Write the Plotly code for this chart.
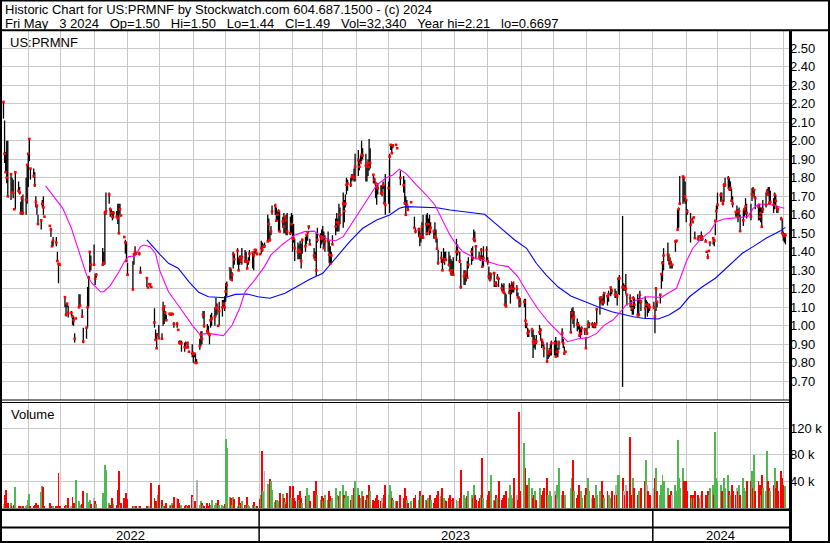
import pandas as pd
import plotly.graph_objects as go

# ---------------- data ----------------
DATES = pd.bdate_range("2022-05-09", "2024-05-03")

HIGH = [
 2.21, 2.11, 1.94, 2.00, 2.00, 1.82, 1.80, 1.79, 1.63, 1.83, 1.78, 1.75, 1.67, 1.70, 1.71, 1.80, 1.87,
 1.93, 2.01, 1.85, 1.85, 1.83, 1.70, 1.65, 1.60, 1.57, 1.68, 1.70, 1.59, None, None, 1.54, 1.53, 1.46, 1.48, 1.48, 1.40, 1.34, 1.34,
 None, None, 1.16, 1.12, 1.12, 1.11, 1.08, 1.06, 1.05, 0.96, 1.04, 1.17, 1.17, None, 1.09, 0.99, 0.99, 1.21, 1.27, 1.40, 1.38,
 1.44, 1.28, 1.285, None, None, None, 1.42, 1.40, 1.62, 1.72, 1.72, 1.64, 1.63, 1.62, 1.62, 1.62, 1.66, 1.66, 1.66, 1.596, 1.48, 1.465, 1.455,
 1.34, None, None, 1.35, 1.39, 1.43, 1.39, 1.40, 1.32, None, None, None, 1.26, 1.207, 1.23, 1.23, 1.21, 1.095, 0.98, 0.96, 0.96, 1.005,
 0.96, 1.13, 1.105, 1.08, 1.06, 1.07, 1.06, 1.07, 1.065, 1.02, 1.02, 0.98, 0.92, 0.92, 0.92, 0.91, 0.915, 0.906, 0.915, 0.86, 0.90,
 0.86, 0.85, 0.85, 0.82, 0.93, 0.97, 0.97, 1.08, 1.08, 1.01, 1.00, 0.95, 1.06, 1.07, 1.10, 1.15, 1.12, 1.00, 1.13, 1.14, 1.14, 1.16,
 1.23, 1.24, 1.31, 1.31, 1.29, 1.40, 1.39, 1.42, 1.37, 1.38, 1.38, 1.42, 1.41, 1.40, 1.34, 1.37, 1.41, 1.40, 1.39, 1.41, 1.41, 1.39,
 1.39, 1.46, 1.45, 1.44, 1.45, 1.60, 1.58, 1.51, 1.54, 1.65, 1.66, 1.64, 1.62, 1.63, 1.62, 1.59, 1.61, 1.59, 1.60, 1.61, 1.59, 1.61,
 1.60, 1.55, 1.47, 1.45, 1.44, 1.46, 1.445, 1.47, 1.48, 1.49, 1.51, 1.54, 1.47, None, 1.42, 1.40, 1.50, 1.53, 1.50, 1.52,
 1.54, 1.51, 1.49, 1.51, 1.46, 1.43, 1.40, 1.49, 1.58, 1.61, 1.58, 1.66, 1.64, 1.72, 1.68, 1.71, 1.80, 1.79, 1.80, 1.82, 1.82, 1.85, 1.93,
 1.95, 1.90, 1.92, 2.00, 1.96, 1.93, 1.87, 1.90, 2.01, 1.96, 1.82, 1.80, 1.78, 1.76, 1.77, 1.76, 1.76, 1.78, 1.76, 1.82,
 1.78, 1.93, 1.98, 1.98, 1.98, 1.978, 1.96, None, None, 1.84, 1.81, 1.79, 1.70, 1.68, 1.65, 1.668, None, None, 1.59, 1.53, 1.53, 1.53, 1.50,
 1.56, 1.60, 1.60, 1.61, 1.58, 1.60, 1.56, 1.52, 1.56, 1.52, 1.47, 1.41, 1.40, 1.36, 1.42, 1.40, 1.40, 1.40, 1.38, 1.36, 1.35, 1.37,
 1.47, 1.44, None, 1.40, 1.34, 1.30, 1.30, 1.29, 1.35, 1.37, 1.42, 1.43, 1.52, 1.51, 1.43, 1.40, 1.38, 1.42, 1.38, 1.43, 1.43,
 1.37, 1.32, 1.29, 1.28, 1.29, 1.24, 1.24, 1.28, 1.26, 1.23, 1.22, 1.23, 1.18, 1.17, 1.23, 1.22, 1.24, 1.23, 1.24, 1.22, 1.18, 1.16, 1.15,
 None, 1.146, 1.146, 1.01, 0.99, 0.98, 0.99, 0.98, 0.95, 0.93, 0.95, 1.005, 0.987, 0.93, 0.92, 0.90, 0.91, 0.86, 0.88, 0.90, 0.92,
 0.92, 0.94, 0.92, 0.88, 0.92, 0.987, 0.93, 0.888, 0.86, None, None, 1.08, 1.095, 1.10, 1.08, 1.04, 1.02, 1.005, 0.99, 0.997, 0.99, 0.94,
 0.99, 1.03, 1.02, 1.02, 1.01, 1.02, 1.01, 1.095, 1.158, 1.16, 1.15, 1.17, 1.18, 1.16, 1.19, None, 1.21, 1.20, 1.20, 1.19, 1.17, 1.26,
 1.275, 1.594, 1.23, 1.22, 1.28, 1.17, 1.17, 1.14, 1.11, 1.16, 1.15, 1.17, 1.15, 1.19, 1.14, None, 1.16, 1.14, 1.13, 1.12, 1.12,
 None, 1.13, 1.09, 1.21, 1.13, 1.17, 1.28, 1.35, 1.42, None, 1.45, 1.39, 1.37, 1.35, 1.33, 1.46, 1.46, 1.63, 1.64, 1.81, 1.81, 1.80, 1.78,
 1.68, 1.63, 1.61, 1.574, 1.586, 1.586, 1.51, 1.49, None, 1.49, 1.51, 1.49, 1.47, 1.40, 1.39, 1.405, 1.45, 1.48, 1.47, 1.57, 1.65,
 1.72, 1.72, 1.72, 1.68, 1.77, 1.80, 1.81, 1.80, 1.78, 1.74, 1.70, 1.62, 1.65, 1.63, 1.64, 1.60, 1.63, 1.64, 1.69, 1.66, None,
 1.66, 1.745, 1.75, 1.74, 1.70, 1.66, 1.66, 1.64, 1.64, 1.68, 1.72, 1.74, 1.75, 1.75, 1.73, 1.69, 1.72, 1.71, 1.65, 1.64, 1.59, 1.58,
 1.51, 1.50, 1.50,
]

LOW = [
 2.12, 1.88, 1.83, 1.77, 1.70, 1.68, 1.72, 1.69, 1.63, 1.63, 1.72, 1.71, 1.60, 1.60, 1.60, 1.60, 1.66,
 1.75, 1.89, 1.79, 1.80, 1.75, 1.64, 1.60, 1.55, 1.52, 1.64, 1.60, 1.59, None, None, 1.54, 1.48, 1.43, 1.43, 1.43, 1.35, 1.23, 1.33,
 None, None, 1.10, 1.05, 1.10, 1.045, 1.05, 1.005, 1.00, 0.91, 1.04, 1.10, 1.10, None, 1.045, 0.906, 0.93, 0.99, 1.10, 1.29, 1.30,
 1.33, 1.22, 1.26, None, None, None, 1.33, 1.33, 1.33, 1.60, 1.66, 1.59, 1.60, 1.57, 1.58, 1.58, 1.55, 1.50, 1.60, 1.596, 1.48, 1.39, 1.35,
 1.276, None, None, 1.195, 1.33, 1.39, 1.39, 1.38, 1.285, None, None, None, 1.21, 1.207, 1.22, 1.21, 1.21, 0.99, 0.92, 0.88, 0.95, 0.93,
 0.93, 1.00, 1.01, 1.03, 1.03, 1.06, 1.06, 1.06, 1.06, 0.99, 0.99, 0.978, 0.90, 0.90, 0.86, 0.86, 0.88, 0.906, 0.88, 0.86, 0.83,
 0.80, 0.83, 0.80, 0.80, 0.87, 0.89, 0.90, 1.04, 0.99, 0.96, 0.95, 0.90, 0.99, 1.00, 1.00, 1.05, 1.06, 1.00, 1.00, 1.05, 1.10, 1.08,
 1.13, 1.16, 1.25, 1.25, 1.24, 1.31, 1.33, 1.33, 1.30, 1.33, 1.34, 1.33, 1.34, 1.34, 1.31, 1.33, 1.35, 1.31, 1.30, 1.39, 1.39, 1.38,
 1.385, 1.39, 1.40, 1.42, 1.42, 1.455, 1.46, 1.455, 1.49, 1.60, 1.60, 1.57, 1.57, 1.51, 1.51, 1.53, 1.50, 1.50, 1.49, 1.49, 1.49, 1.50,
 1.40, 1.45, 1.35, 1.36, 1.36, 1.36, 1.31, 1.39, 1.40, 1.44, 1.46, 1.52, 1.44, None, 1.36, 1.35, 1.27, 1.45, 1.42, 1.44,
 1.45, 1.42, 1.40, 1.40, 1.34, 1.33, 1.34, 1.44, 1.49, 1.51, 1.51, 1.51, 1.55, 1.53, 1.56, 1.64, 1.71, 1.73, 1.75, 1.78, 1.79, 1.78, 1.78,
 1.81, 1.84, 1.88, 1.89, 1.90, 1.78, 1.78, 1.81, 1.84, 1.85, 1.77, 1.77, 1.69, 1.654, 1.71, 1.71, 1.70, 1.74, 1.663, 1.60,
 1.66, 1.61, 1.95, 1.93, 1.96, 1.978, 1.96, None, None, 1.76, 1.72, 1.654, 1.60, 1.64, 1.627, 1.668, None, None, 1.529, 1.50, 1.48, 1.43, 1.45,
 1.47, 1.47, 1.49, 1.49, 1.51, 1.49, 1.50, 1.47, 1.47, 1.45, 1.41, 1.33, 1.34, 1.30, 1.34, 1.33, 1.36, 1.32, 1.30, 1.27, 1.27, 1.27,
 1.35, 1.38, None, 1.34, 1.20, 1.22, 1.22, 1.24, 1.26, 1.31, 1.33, 1.35, 1.456, 1.45, 1.36, 1.37, 1.35, 1.36, 1.32, 1.32, 1.35,
 1.33, 1.25, 1.24, 1.25, 1.21, 1.21, 1.21, 1.25, 1.21, 1.19, 1.18, 1.17, 1.105, 1.10, 1.17, 1.12, 1.17, 1.18, 1.18, 1.16, 1.15, 1.10, 1.10,
 None, 1.10, 0.987, 0.987, 0.94, 0.94, 0.94, 0.826, 0.88, 0.87, 0.90, 0.951, 0.92, 0.88, 0.89, 0.83, 0.80, 0.82, 0.83, 0.84, 0.84,
 0.84, 0.83, 0.83, 0.83, 0.87, 0.906, 0.88, 0.85, 0.86, None, None, 0.96, 1.04, 1.01, 0.99, 0.97, 0.98, 0.94, 0.93, 0.95, 0.95, 0.88,
 0.95, 0.987, 0.987, 0.99, 0.987, 0.987, 0.987, 1.005, 1.06, 1.12, 1.11, 1.11, 1.12, 1.11, 1.13, None, 1.16, 1.17, 1.15, 1.15, 1.11, 1.17,
 1.166, 0.67, 1.19, 1.19, 1.17, 1.11, 1.10, 1.08, 1.06, 1.06, 1.09, 1.05, 1.05, 1.12, 1.08, None, 1.04, 1.10, 1.05, 1.07, 1.08,
 None, 1.09, 0.96, 1.08, 1.10, 1.12, 1.20, 1.24, 1.30, None, 1.35, 1.33, 1.31, 1.31, 1.31, 1.40, 1.45, 1.52, 1.53, 1.66, 1.66, 1.67, 1.66,
 1.56, 1.60, 1.45, 1.574, 1.56, 1.586, 1.47, 1.46, None, 1.46, 1.46, 1.46, 1.456, 1.40, 1.36, 1.405, 1.43, 1.44, 1.43, 1.49, 1.57,
 1.63, 1.67, 1.67, 1.65, 1.67, 1.75, 1.74, 1.73, 1.73, 1.67, 1.64, 1.59, 1.59, 1.56, 1.59, 1.51, 1.54, 1.59, 1.60, 1.58, None,
 1.57, 1.675, 1.71, 1.69, 1.63, 1.57, 1.57, 1.56, 1.54, 1.61, 1.64, 1.71, 1.70, 1.66, 1.66, 1.61, 1.63, 1.65, 1.61, 1.61, 1.57, 1.50,
 1.46, 1.45, 1.44,
]

CLOSE = [
 2.21, 1.93, 1.83, 1.80, 1.70, 1.82, 1.72, 1.72, 1.63, 1.83, 1.73, 1.72, 1.61, 1.69, 1.61, 1.68, 1.87,
 1.93, 2.01, 1.85, 1.81, 1.76, 1.67, 1.65, 1.55, 1.57, 1.66, 1.64, 1.59, None, None, 1.54, 1.52, 1.43, 1.46, 1.45, 1.35, 1.335, 1.33,
 None, None, 1.155, 1.06, 1.12, 1.07, 1.07, 1.05, 1.03, 0.93, 1.04, 1.10, 1.11, None, 1.05, 0.915, 0.99, 1.10, 1.26, 1.40, 1.33,
 1.33, 1.255, 1.276, None, None, None, 1.33, 1.34, 1.61, 1.62, 1.71, 1.63, 1.61, 1.59, 1.61, 1.59, 1.58, 1.50, 1.63, 1.596, 1.48, 1.45, 1.35,
 1.276, None, None, 1.196, 1.387, 1.40, 1.39, 1.39, 1.288, None, None, None, 1.258, 1.207, 1.225, 1.225, 1.21, 1.018, 0.924, 0.879, 0.95, 0.933,
 0.93, 1.09, 1.105, 1.07, 1.03, 1.065, 1.06, 1.065, 1.063, 1.01, 1.01, 0.978, 0.91, 0.905, 0.906, 0.885, 0.883, 0.906, 0.883, 0.86, 0.85,
 0.85, 0.85, 0.80, 0.80, 0.89, 0.95, 0.93, 1.06, 1.00, 0.97, 0.96, 0.95, 1.03, 1.04, 1.05, 1.095, 1.10, 1.00, 1.08, 1.10, 1.12, 1.10,
 1.186, 1.22, 1.31, 1.25, 1.276, 1.387, 1.36, 1.405, 1.30, 1.366, 1.35, 1.37, 1.348, 1.35, 1.31, 1.348, 1.39, 1.396, 1.38, 1.41, 1.41, 1.39,
 1.387, 1.42, 1.41, 1.43, 1.43, 1.456, 1.55, 1.465, 1.51, 1.618, 1.65, 1.568, 1.60, 1.62, 1.51, 1.564, 1.537, 1.587, 1.57, 1.51, 1.50, 1.55,
 1.474, 1.47, 1.42, 1.40, 1.41, 1.40, 1.35, 1.465, 1.43, 1.49, 1.506, 1.537, 1.44, None, 1.38, 1.36, 1.30, 1.465, 1.483, 1.47,
 1.474, 1.42, 1.456, 1.46, 1.384, 1.335, 1.38, 1.44, 1.537, 1.56, 1.56, 1.55, 1.60, 1.66, 1.62, 1.66, 1.762, 1.77, 1.762, 1.807, 1.81, 1.80, 1.86,
 1.897, 1.86, 1.88, 1.924, 1.92, 1.867, 1.86, 1.88, 1.86, 1.88, 1.816, 1.79, 1.77, 1.75, 1.744, 1.717, 1.717, 1.762, 1.663, 1.654,
 1.744, 1.915, 1.978, 1.933, 1.975, 1.978, 1.96, None, None, 1.80, 1.76, 1.663, 1.60, 1.654, 1.627, 1.668, None, None, 1.529, 1.51, 1.52, 1.483, 1.49,
 1.537, 1.477, 1.55, 1.50, 1.55, 1.519, 1.53, 1.51, 1.483, 1.474, 1.416, 1.34, 1.366, 1.30, 1.348, 1.36, 1.357, 1.33, 1.30, 1.284, 1.30, 1.276,
 1.40, 1.40, None, 1.35, 1.21, 1.267, 1.28, 1.29, 1.26, 1.33, 1.40, 1.366, 1.47, 1.46, 1.43, 1.37, 1.366, 1.41, 1.32, 1.366, 1.41,
 1.348, 1.267, 1.25, 1.28, 1.285, 1.23, 1.22, 1.26, 1.254, 1.203, 1.186, 1.18, 1.114, 1.105, 1.18, 1.20, 1.21, 1.23, 1.20, 1.20, 1.153, 1.146, 1.12,
 None, 1.13, 1.027, 1.009, 0.96, 0.969, 0.978, 0.915, 0.906, 0.92, 0.915, 0.965, 0.978, 0.924, 0.906, 0.879, 0.807, 0.85, 0.86, 0.87, 0.906,
 0.906, 0.834, 0.86, 0.86, 0.906, 0.96, 0.906, 0.85, 0.86, None, None, 0.965, 1.069, 1.04, 1.05, 1.009, 1.005, 0.948, 0.96, 0.987, 0.978, 0.879,
 0.96, 1.005, 1.009, 1.009, 1.005, 0.997, 1.009, 1.09, 1.146, 1.153, 1.13, 1.127, 1.177, 1.16, 1.17, None, 1.207, 1.19, 1.168, 1.168, 1.16, 1.254,
 1.258, 1.21, 1.21, 1.20, 1.20, 1.168, 1.15, 1.114, 1.095, 1.15, 1.114, 1.059, 1.06, 1.168, 1.13, None, 1.095, 1.114, 1.114, 1.11, 1.10,
 None, 1.10, 1.05, 1.20, 1.13, 1.168, 1.28, 1.34, 1.38, None, 1.385, 1.366, 1.348, 1.33, 1.33, 1.456, 1.46, 1.52, 1.63, 1.66, 1.807, 1.80, 1.70,
 1.68, 1.618, 1.546, 1.574, 1.56, 1.586, 1.474, 1.47, None, 1.483, 1.483, 1.47, 1.456, 1.40, 1.37, 1.405, 1.45, 1.474, 1.46, 1.568, 1.62,
 1.654, 1.708, 1.676, 1.66, 1.76, 1.762, 1.798, 1.74, 1.745, 1.676, 1.66, 1.616, 1.616, 1.59, 1.62, 1.512, 1.57, 1.63, 1.645, 1.61, None,
 1.59, 1.71, 1.708, 1.735, 1.69, 1.645, 1.59, 1.61, 1.535, 1.63, 1.654, 1.726, 1.71, 1.663, 1.67, 1.654, 1.708, 1.676, 1.64, 1.63, 1.578, 1.50,
 1.49, 1.488, 1.49,
]

# volume in thousands of shares
VOLUME_K = [
 6, 20, 27, 7, 7, 7, 3, 2, 4, 31, 2, 3, 3, 3, 2, 3, 4,
 12, 21, 3, 3, 5, 7, 3, 4, 24, 33, 32, 2, 0, 0, 8, 2, 2, 3, 2, 3, 52, 2,
 0, 0, 3, 4, 4, 15, 3, 16, 7, 6, 42, 10, 4, 0, 6, 25, 23, 9, 8, 12, 6,
 15, 10, 6, 0, 0, 0, 22, 4, 64, 57, 7, 4, 5, 15, 6, 4, 27, 55, 4, 7, 15, 15, 23,
 13, 0, 0, 3, 2, 2, 2, 3, 2, 0, 0, 0, 2, 2, 3, 2, 38, 15, 10, 2, 20, 35,
 12, 3, 3, 2, 7, 4, 3, 7, 4, 16, 15, 13, 7, 3, 5, 3, 4, 3, 2, 5, 19,
 17, 5, 10, 42, 4, 10, 7, 4, 3, 7, 3, 7, 4, 12, 4, 7, 3, 12, 5, 4, 3, 6,
 103, 90, 17, 15, 5, 17, 14, 3, 16, 4, 7, 10, 4, 3, 17, 4, 3, 4, 9, 3, 2, 3,
 13, 20, 85, 25, 55, 36, 25, 43, 40, 27, 9, 12, 12, 10, 22, 21, 15, 9, 6, 22, 33, 15,
 33, 15, 10, 20, 12, 25, 15, 8, 18, 30, 12, 20, 10, 0, 25, 15, 40, 20, 12, 18,
 10, 15, 20, 12, 25, 18, 10, 15, 30, 20, 12, 18, 25, 35, 20, 15, 25, 18, 12, 20, 15, 30, 40,
 30, 20, 15, 25, 18, 12, 20, 15, 35, 25, 12, 10, 15, 20, 12, 10, 15, 8, 20, 35,
 20, 35, 25, 15, 12, 10, 10, 0, 0, 20, 15, 30, 18, 12, 8, 10, 0, 0, 15, 20, 12, 25, 18,
 15, 20, 12, 10, 15, 20, 12, 8, 15, 10, 20, 25, 18, 30, 15, 12, 10, 15, 20, 12, 10, 15,
 12, 10, 0, 15, 57, 20, 15, 12, 18, 25, 20, 15, 35, 20, 12, 10, 15, 20, 75, 15, 12,
 20, 25, 15, 50, 12, 10, 20, 15, 40, 12, 15, 20, 18, 25, 15, 35, 20, 15, 45, 20, 12, 144, 25,
 0, 97, 60, 35, 20, 45, 30, 15, 20, 25, 12, 30, 15, 20, 25, 30, 45, 20, 15, 25, 18,
 25, 20, 35, 15, 60, 20, 25, 15, 20, 0, 0, 30, 45, 72, 25, 15, 20, 35, 25, 15, 20, 30,
 20, 45, 25, 15, 20, 15, 35, 20, 25, 15, 40, 20, 15, 25, 20, 0, 15, 25, 20, 35, 20, 50,
 50, 45, 25, 20, 35, 25, 106, 15, 20, 45, 30, 20, 25, 15, 30, 0, 40, 72, 35, 25, 20,
 0, 30, 45, 60, 25, 20, 35, 50, 40, 0, 30, 20, 15, 25, 20, 35, 25, 102, 45, 30, 60, 40, 25,
 40, 25, 20, 15, 20, 15, 25, 20, 0, 15, 20, 25, 20, 15, 25, 20, 30, 35, 20, 114, 45,
 40, 35, 25, 20, 45, 30, 50, 25, 20, 35, 25, 20, 30, 25, 35, 20, 45, 30, 25, 40, 0,
 40, 55, 30, 80, 25, 40, 35, 20, 50, 30, 25, 85, 40, 30, 25, 35, 60, 30, 40, 25, 55, 45,
 35, 30, 32.34,
]

MA_FAST_DATES = [
 "2022-06-17", "2022-07-03", "2022-07-11", "2022-07-19", "2022-07-25", "2022-07-30", "2022-08-07",
 "2022-08-10", "2022-08-16", "2022-08-24", "2022-08-29", "2022-09-02", "2022-09-08", "2022-09-13",
 "2022-09-16", "2022-09-22", "2022-09-27", "2022-10-01", "2022-10-09", "2022-10-20", "2022-10-31",
 "2022-11-07", "2022-11-15", "2022-11-29", "2022-12-07", "2022-12-14", "2022-12-19", "2022-12-28",
 "2023-01-06", "2023-01-12", "2023-01-22", "2023-02-03", "2023-02-12", "2023-02-21", "2023-02-26",
 "2023-03-07", "2023-03-13", "2023-03-20", "2023-03-29", "2023-04-06", "2023-04-13", "2023-04-20",
 "2023-04-29", "2023-05-05", "2023-05-11", "2023-05-17", "2023-05-27", "2023-06-05", "2023-06-13",
 "2023-06-19", "2023-06-27", "2023-07-03", "2023-07-09", "2023-07-15", "2023-07-20", "2023-07-29",
 "2023-08-11", "2023-08-20", "2023-08-29", "2023-09-07", "2023-09-16", "2023-09-26", "2023-10-05",
 "2023-10-14", "2023-10-23", "2023-11-02", "2023-11-10", "2023-11-17", "2023-11-25", "2023-12-01",
 "2023-12-07", "2023-12-17", "2023-12-27", "2024-01-09", "2024-01-15", "2024-01-23", "2024-01-27",
 "2024-02-01", "2024-02-07", "2024-02-15", "2024-02-23", "2024-02-29", "2024-03-07", "2024-03-21",
 "2024-03-29", "2024-04-03", "2024-04-08", "2024-04-18", "2024-04-28", "2024-05-02",
]
MA_FAST = [
 1.756, 1.635, 1.527, 1.383, 1.275, 1.23, 1.184,
 1.184, 1.217, 1.292, 1.346, 1.374, 1.377, 1.428,
 1.437, 1.428, 1.39, 1.296, 1.184, 1.095, 1.004,
 0.954, 0.959, 0.947, 1.004, 1.095, 1.184, 1.248,
 1.32, 1.383, 1.437, 1.49, 1.509, 1.512, 1.49,
 1.464, 1.46, 1.482, 1.563, 1.635, 1.698, 1.761,
 1.80, 1.815, 1.847, 1.824, 1.761, 1.707, 1.653,
 1.581, 1.49, 1.437, 1.40, 1.383, 1.365, 1.352,
 1.329, 1.32, 1.265, 1.176, 1.095, 1.022, 0.968,
 0.914, 0.929, 0.936, 0.959, 1.004, 1.031, 1.068,
 1.112, 1.139, 1.157, 1.154, 1.176, 1.203, 1.265,
 1.346, 1.418, 1.473, 1.509, 1.563, 1.577, 1.584,
 1.59, 1.635, 1.657, 1.657, 1.644, 1.635,
]

MA_SLOW_DATES = [
 "2022-09-19", "2022-09-27", "2022-10-01", "2022-10-09", "2022-10-18", "2022-10-28", "2022-11-06",
 "2022-11-15", "2022-11-30", "2022-12-10", "2022-12-21", "2022-12-31", "2023-01-11", "2023-01-25",
 "2023-02-06", "2023-02-17", "2023-03-01", "2023-03-13", "2023-03-26", "2023-04-07", "2023-04-20",
 "2023-05-02", "2023-05-11", "2023-05-17", "2023-05-30", "2023-06-15", "2023-06-27", "2023-07-15",
 "2023-07-29", "2023-08-08", "2023-08-17", "2023-08-26", "2023-09-06", "2023-09-15", "2023-09-24",
 "2023-10-05", "2023-10-17", "2023-10-30", "2023-11-11", "2023-11-24", "2023-12-03", "2023-12-14",
 "2023-12-23", "2024-01-06", "2024-01-16", "2024-01-26", "2024-02-04", "2024-02-16", "2024-02-28",
 "2024-03-12", "2024-03-24", "2024-04-03", "2024-04-15", "2024-04-28", "2024-05-03",
]
MA_SLOW = [
 1.464, 1.41, 1.386, 1.338, 1.311, 1.238, 1.181,
 1.157, 1.152, 1.17, 1.172, 1.157, 1.149, 1.176,
 1.217, 1.252, 1.284, 1.365, 1.455, 1.527, 1.572,
 1.599, 1.635, 1.644, 1.641, 1.638, 1.626, 1.613,
 1.603, 1.554, 1.509, 1.464, 1.419, 1.338, 1.275,
 1.211, 1.161, 1.13, 1.103, 1.076, 1.062, 1.049,
 1.041, 1.037, 1.058, 1.095, 1.157, 1.211, 1.257,
 1.329, 1.392, 1.428, 1.473, 1.512, 1.532,
]

MONTH_STARTS = [
 "2022-06-01", "2022-07-01", "2022-08-01", "2022-09-01", "2022-10-01", "2022-11-01", "2022-12-01",
 "2023-01-01", "2023-02-01", "2023-03-01", "2023-04-01", "2023-05-01", "2023-06-01", "2023-07-01",
 "2023-08-01", "2023-09-01", "2023-10-01", "2023-11-01", "2023-12-01", "2024-01-01", "2024-02-01",
 "2024-03-01", "2024-04-01", "2024-05-01",
]
PRICE_TICKS = [0.70, 0.80, 0.90, 1.00, 1.10, 1.20, 1.30, 1.40, 1.50, 1.60, 1.70, 1.80, 1.90,
               2.00, 2.10, 2.20, 2.30, 2.40, 2.50]
PRICE_LABELS = ["0.70", "0.80", "0.90", "1.00", "1.10", "1.20", "1.30", "1.40", "1.50", "1.60",
                "1.70", "1.80", "1.90", "2.00", "2.10", "2.20", "2.30", "2.40", "2.50"]
VOLUME_TICKS = [40, 80, 120]
VOLUME_LABELS = ["40 k", "80 k", "120 k"]
YEARS = ["2022", "2023", "2024"]
YEAR_BOUNDS = ["2023-01-01", "2024-01-01"]

TITLE_1 = "Historic Chart for US:PRMNF by Stockwatch.com 604.687.1500 - (c) 2024"
SP = "\u00a0\u00a0\u00a0"
TITLE_2 = SP.join(["Fri May", "3 2024", "Op=1.50", "Hi=1.50", "Lo=1.44", "Cl=1.49",
                   "Vol=32,340", "Year hi=2.21", "lo=0.6697"])
SYMBOL = "US:PRMNF"

n = min(len(DATES), len(HIGH), len(LOW), len(CLOSE), len(VOLUME_K))
if not (len(DATES) == len(HIGH) == len(LOW) == len(CLOSE) == len(VOLUME_K)):
    print("length mismatch", len(DATES), len(HIGH), len(LOW), len(CLOSE), len(VOLUME_K))
dates = list(DATES[:n])

# ---------------- geometry helpers (pixels -> paper) ----------------
W, H = 830, 543
def px(x):
    return x / W
def py(y):
    return 1 - y / H

FONT = "Liberation Sans, Arial, sans-serif"
GRID = "#C8C8C8"
X_RANGE = ["2022-05-07 15:00", "2024-05-06 07:00"]

fig = go.Figure()

# high-low bars
seg_x, seg_y = [], []
for d, h, l in zip(dates, HIGH[:n], LOW[:n]):
    if h is None:
        continue
    seg_x += [d, d, None]
    seg_y += [l, h, None]
fig.add_trace(go.Scatter(x=seg_x, y=seg_y, mode="lines", line=dict(color="black", width=1.3),
                         hoverinfo="skip", xaxis="x", yaxis="y"))

# moving averages
fig.add_trace(go.Scatter(x=MA_SLOW_DATES, y=MA_SLOW, mode="lines",
                         line=dict(color="#0000FF", width=1.1), xaxis="x", yaxis="y"))
fig.add_trace(go.Scatter(x=MA_FAST_DATES, y=MA_FAST, mode="lines",
                         line=dict(color="#FF00FF", width=1.1), xaxis="x", yaxis="y"))

# close markers
cx = [d for d, c in zip(dates, CLOSE[:n]) if c is not None]
cy = [c for c in CLOSE[:n] if c is not None]
fig.add_trace(go.Scatter(x=cx, y=cy, mode="markers",
                         marker=dict(symbol="square", size=2.6, color="#FF0000", line=dict(width=0)),
                         xaxis="x", yaxis="y"))

# volume bars coloured by close direction
colors = []
prev = None
for c in CLOSE[:n]:
    if c is None or prev is None:
        colors.append("#B4B4B4" if c is not None else "#FFFFFF")
    elif c > prev:
        colors.append("#50B850")
    elif c < prev:
        colors.append("#FF0000")
    else:
        colors.append("#B4B4B4")
    if c is not None:
        prev = c
fig.add_trace(go.Bar(x=dates, y=VOLUME_K[:n], marker=dict(color=colors, line=dict(width=0)),
                     width=86400000 * 0.9, xaxis="x2", yaxis="y2"))

axis_common = dict(showline=False, zeroline=False, ticks="")
fig.update_layout(
    width=W, height=H, margin=dict(l=0, r=0, t=0, b=0),
    paper_bgcolor="white", plot_bgcolor="white", showlegend=False, bargap=0,
    xaxis=dict(domain=[px(2), px(789)], range=X_RANGE, type="date", tickvals=MONTH_STARTS,
               showticklabels=False, showgrid=True, gridcolor=GRID, gridwidth=1, anchor="y",
               **axis_common),
    yaxis=dict(domain=[py(400), py(31)], range=[0.599, 2.5935], side="right", anchor="x",
               tickvals=PRICE_TICKS, ticktext=PRICE_LABELS, showgrid=True, gridcolor=GRID,
               gridwidth=1, tickfont=dict(family=FONT, size=13, color="black"), **axis_common),
    xaxis2=dict(domain=[px(2), px(789)], range=X_RANGE, type="date", tickvals=MONTH_STARTS,
                showticklabels=False, showgrid=True, gridcolor=GRID, gridwidth=1, anchor="y2",
                matches="x", **axis_common),
    yaxis2=dict(domain=[py(508), py(402)], range=[0, 159], side="right", anchor="x2",
                tickvals=VOLUME_TICKS, ticktext=VOLUME_LABELS, showgrid=True, gridcolor=GRID,
                gridwidth=1, tickfont=dict(family=FONT, size=13, color="black"), **axis_common),
)

shapes = []
def hline(y, x0, x1, w):
    shapes.append(dict(type="line", xref="paper", yref="paper", x0=px(x0), x1=px(x1),
                       y0=py(y), y1=py(y), line=dict(color="black", width=w)))
def vline(x, y0, y1, w):
    shapes.append(dict(type="line", xref="paper", yref="paper", x0=px(x), x1=px(x),
                       y0=py(y0), y1=py(y1), line=dict(color="black", width=w)))

shapes.append(dict(type="rect", xref="paper", yref="paper", x0=px(1), x1=px(829), y0=py(542),
                   y1=py(0.5), line=dict(color="black", width=2)))
hline(30.2, 0, 830, 2)
vline(790.5, 30, 543, 3)
hline(400, 0, 790, 1)
hline(402.5, 0, 790, 1)
hline(509.8, 0, 790, 2.5)
hline(527.5, 0, 790, 2)
for yb in YEAR_BOUNDS:
    shapes.append(dict(type="line", xref="x", yref="paper", x0=yb, x1=yb, y0=py(510), y1=py(542),
                       line=dict(color="black", width=1.5)))
fig.update_layout(shapes=shapes)

ann = []
def label(text, x, y, anchor="left"):
    ann.append(dict(text=text, xref="paper", yref="paper", x=px(x), y=py(y), xanchor=anchor,
                    yanchor="middle", showarrow=False, font=dict(family=FONT, size=13, color="black")))
label(TITLE_1, 3, 9.5)
label(TITLE_2, 3, 23.5)
label(SYMBOL, 8, 42.5)
label("Volume", 9, 414)
year_centers = [130, 455, 720]
for t, xc in zip(YEARS, year_centers):
    label(t, xc, 535.5, "center")
fig.update_layout(annotations=ann)

fig.write_html("out.html", config={"displayModeBar": False},
               post_script="document.body.style.margin='0px';document.body.style.overflow='hidden';")
